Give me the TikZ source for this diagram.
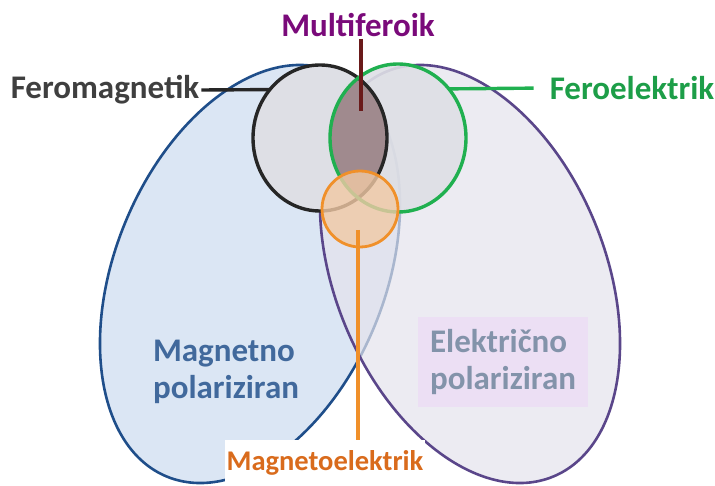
\documentclass[tikz,border=0pt]{standalone}
\usepackage{fontspec}
\setmainfont{Carlito}
\usepackage{tikz}
\usetikzlibrary{positioning, shapes.geometric}
\definecolor{magblue}{RGB}{31,78,138}
\definecolor{magfill}{RGB}{219,230,244}
\definecolor{elepurple}{RGB}{90,70,138}
\definecolor{elefill}{RGB}{228,227,236}
\definecolor{ringfill}{RGB}{222,223,229}
\definecolor{fegreen}{RGB}{32,176,80}
\definecolor{lensfill}{RGB}{160,138,142}
\definecolor{meorange}{RGB}{240,144,42}
\definecolor{mefill}{RGB}{241,201,165}
\definecolor{mftext}{RGB}{122,10,122}
\definecolor{mfline}{RGB}{106,26,26}
\definecolor{fmtext}{RGB}{63,63,63}
\definecolor{metext}{RGB}{217,107,28}
\definecolor{eltext}{RGB}{131,147,170}
\definecolor{elbox}{RGB}{236,223,244}

\begin{document}
\begin{tikzpicture}[
  x=1pt, y=-1pt,
  region/.style={ellipse, inner sep=0pt, outer sep=0pt, line width=2.6pt},
  ring/.style={ellipse, inner sep=0pt, outer sep=0pt, line width=3.4pt},
  lbl/.style={font=\fontsize{33}{37}\selectfont\bfseries, inner sep=2pt},
  link/.style={line width=3.4pt}
]
\useasboundingbox (0,0) rectangle (715,486);
\node[region, draw=magblue, fill=magfill, minimum width=438, minimum height=270,
  rotate=67.7] (mag) at (250,274) {};
\node[region, draw=elepurple, fill=elefill, fill opacity=0.7, minimum width=438,
  minimum height=270, rotate=-67.7] (ele) at (470,274) {};
\node[lbl, fill=elbox, text=eltext, align=left, minimum width=170,
  minimum height=90] (lblel) at (503,362) {Električno\\polariziran};
\node[lbl, text=magblue!85!white, align=left] (lblmag) at (226,372) {Magnetno\\polariziran};
\node[ring, fill=ringfill, minimum width=134, minimum height=146] (fm) at (320,138) {};
\node[ring, fill=ringfill, fill opacity=0.9, minimum width=136, minimum height=148] (fe) at (398,138) {};
\begin{scope}
  \clip (320,138) ellipse [x radius=67, y radius=73];
  \fill[lensfill] (398,138) ellipse [x radius=68, y radius=74];
\end{scope}
\node[ring, draw=black!85, minimum width=134, minimum height=146] at (fm) {};
\node[ring, draw=fegreen, minimum width=136, minimum height=148] at (fe) {};
\node[ring, draw=meorange, fill=mefill, fill opacity=0.8, line width=2.8pt,
  minimum size=76] (me) at (360,209) {};
\node[lbl, text=mftext] (lblmf) at (358,25) {Multiferoik};
\node[lbl, text=fmtext, fill=white] (lblfm) at (105,90) {Feromagnetik};
\node[lbl, text=fegreen!90!black, fill=white] (lblfe) at (632,88) {Feroelektrik};
\node[lbl, font=\fontsize{28.5}{34}\selectfont\bfseries, text=metext, fill=white,
  minimum height=46] (lblme) at (325,463) {Magnetoelektrik};
\coordinate (mfend) at (361,111);
\coordinate (metop) at (358,230);
\draw[link, draw=mfline] (lblmf.south -| mfend) -- (mfend);
\draw[link, draw=black!85] (lblfm.east) -- (fm.136);
\draw[link, draw=fegreen, shorten >=14pt] (fe.44) -- (lblfe.west);
\draw[link, draw=meorange] (metop) -- (lblme.north -| metop);
\end{tikzpicture}
\end{document}
